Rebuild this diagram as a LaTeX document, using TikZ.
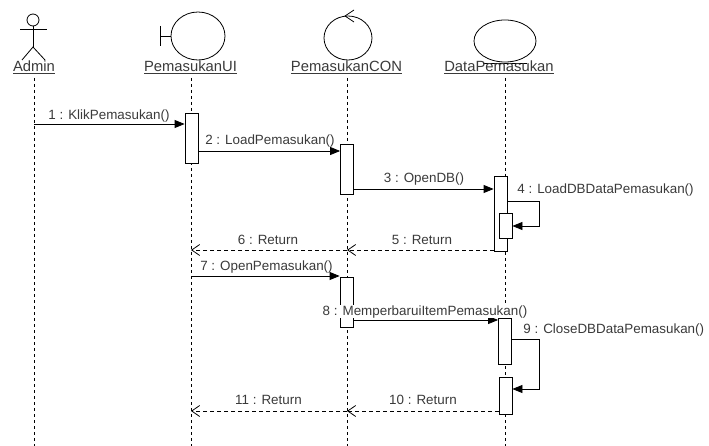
\documentclass[tikz,border=0pt]{standalone}
\usepackage{fontspec}
\setmainfont{Liberation Sans}
\usetikzlibrary{arrows.meta}
\definecolor{labelgray}{HTML}{3A3A3A}
\tikzset{
  lifeline/.style={dash pattern=on 3pt off 3pt},
  actbox/.style={draw,fill=white,minimum width=13pt,inner sep=0pt,anchor=north},
  callmsg/.style={-{Triangle[length=10pt,width=8pt]}},
  replymsg/.style={dash pattern=on 4pt off 3pt,-{Straight Barb[length=8pt,width=11pt]}},
  msglabel/.style={text=labelgray,font=\fontsize{13.4}{15}\selectfont,inner sep=0pt,anchor=base},
  headlabel/.style={text=labelgray,font=\fontsize{14.8}{16}\selectfont,inner sep=0pt,anchor=base}
}
\begin{document}
\begin{tikzpicture}[x=1pt,y=-1pt,line width=0.8pt]
  \useasboundingbox (0,0) rectangle (709,446);
  % heads
  \draw (33,20) circle[radius=6pt];
  \draw (20,29) -- (47,29);
  \draw (33,26) -- (33,47);
  \draw (22,60) -- (33,47) -- (45,60);
  \draw (160,26) -- (160,46);
  \draw (160,36) -- (171,36);
  \draw (198,36) ellipse[x radius=27pt,y radius=24pt];
  \draw (348,38) ellipse[x radius=24pt,y radius=22pt];
  \draw (354,10) -- (345,16) -- (354,22);
  \draw (505,41) ellipse[x radius=31pt,y radius=21pt];
  \draw (483,63) -- (527,63);
  \node[headlabel] (admin) at (34,72) {\underline{Admin}};
  \node[headlabel] (ui) at (190.5,72) {\underline{PemasukanUI}};
  \node[headlabel] (con) at (346.5,72) {\underline{PemasukanCON}};
  \node[headlabel] (data) at (499,72) {\underline{DataPemasukan}};
  % lifelines
  \coordinate (adminL) at (34,78);
  \coordinate (uiL) at (191,78);
  \coordinate (conL) at (347,78);
  \coordinate (dataL) at (505,78);
  \foreach \l in {adminL,uiL,conL,dataL}
    \draw[lifeline] (\l) -- (\l |- 0,446);
  % activations
  \node[actbox,minimum height=50pt] (uiAct) at (191.5,113) {};
  \node[actbox,minimum height=50pt] (conActA) at (347,144) {};
  \node[actbox,minimum height=75pt] (dataActA) at (500.5,176) {};
  \node[actbox,minimum height=25pt] (dataSub) at (505.5,213) {};
  \node[actbox,minimum height=50pt] (conActB) at (346.5,277) {};
  \node[actbox,minimum height=46pt] (dataActB) at (505,318) {};
  \node[actbox,minimum height=37pt] (dataActC) at (505.5,377) {};
  % messages
  \draw[callmsg] (adminL |- 0,124) -- (uiAct.west |- 0,124);
  \draw[callmsg] (uiAct.east |- 0,151) -- (conActA.west |- 0,151);
  \draw[callmsg] (conActA.east |- 0,189) -- (dataActA.west |- 0,189);
  \draw[callmsg] (dataActA.east |- 0,201) -- ++(32,0) |- (dataSub.east |- 0,226);
  \draw[replymsg] (dataActA.west |- 0,250) -- (conL |- 0,250);
  \draw[replymsg] (conL |- 0,250) -- (uiL |- 0,250);
  \draw[callmsg] (uiL |- 0,276) -- (conActB.west |- 0,276);
  \draw[callmsg] (conActB.east |- 0,320) -- (dataActB.west |- 0,320);
  \draw[callmsg] (dataActB.east |- 0,339) -- ++(27,0) |- (dataActC.east |- 0,389);
  \draw[replymsg] (dataActC.west |- 0,411) -- (conL |- 0,411);
  \draw[replymsg] (conL |- 0,411) -- (uiL |- 0,411);
  % labels
  \node[msglabel] (l1) at (109,119.5) {1 : KlikPemasukan()};
  \node[msglabel] (l2) at (270,144.5) {2 : LoadPemasukan()};
  \node[msglabel] (l3) at (424,183) {3 : OpenDB()};
  \node[msglabel,anchor=base west] (l4) at (517,194) {4 : LoadDBDataPemasukan()};
  \node[msglabel] (l5) at (422,244.5) {5 : Return};
  \node[msglabel] (l6) at (268,244.5) {6 : Return};
  \node[msglabel] (l7) at (266.5,270) {7 : OpenPemasukan()};
  \node[msglabel,fill=white,inner sep=0.5pt] (l8) at (425,315) {8 : MemperbaruiItemPemasukan()};
  \node[msglabel,anchor=base west] (l9) at (523,333) {9 : CloseDBDataPemasukan()};
  \node[msglabel] (l10) at (423,404.5) {10 : Return};
  \node[msglabel] (l11) at (268.5,404.5) {11 : Return};
\end{tikzpicture}
\end{document}
